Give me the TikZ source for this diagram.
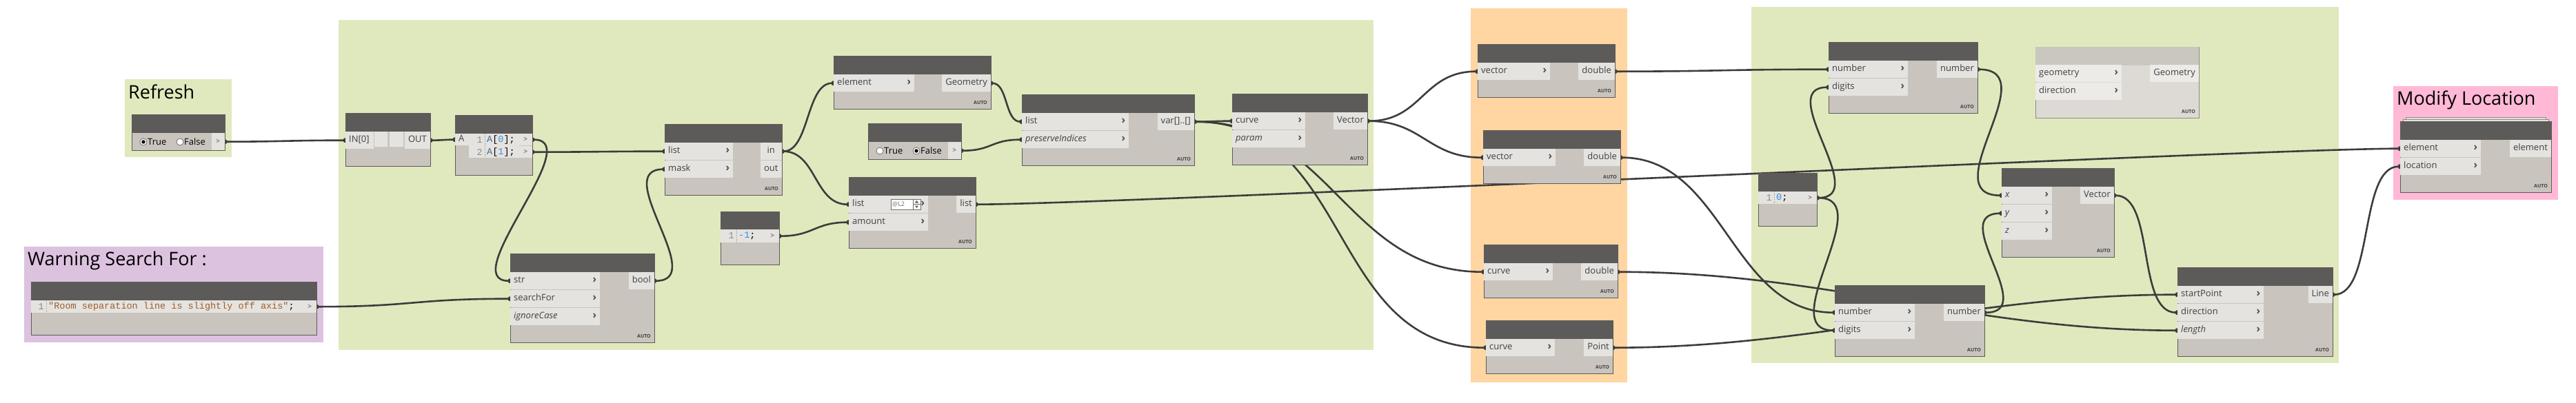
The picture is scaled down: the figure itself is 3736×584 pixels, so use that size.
\documentclass[tikz,border=0pt]{standalone}
\usepackage{fontspec}
\setmainfont{Open Sans}
\newfontfamily\codefont{Liberation Mono}
\usetikzlibrary{arrows.meta,positioning}
\definecolor{HeadGray}{HTML}{5D5B59}
\definecolor{BodyGray}{HTML}{C9C5BE}
\definecolor{RowGray}{HTML}{E5E3DF}
\definecolor{LabelGray}{HTML}{404040}
\definecolor{ChevGray}{HTML}{4F4F4F}
\definecolor{RadioGray}{HTML}{6E6E6E}
\definecolor{WireGray}{HTML}{3C3C3C}
\definecolor{GroupGreen}{HTML}{E0E9BD}
\definecolor{GroupOrange}{HTML}{FFD5A2}
\definecolor{GroupPurple}{HTML}{DDC2E0}
\definecolor{GroupPink}{HTML}{FFB9D6}
\definecolor{CodeBlue}{HTML}{3A8EE0}
\definecolor{CodeSteel}{HTML}{3D6D94}
\definecolor{CodeBrown}{HTML}{9C5E2C}
\definecolor{NumGray}{HTML}{8A8A8A}
\definecolor{FrozenEdge}{HTML}{8E8B87}
\definecolor{FrozenHead}{HTML}{CAC6C0}
\definecolor{FrozenBody}{HTML}{DDDAD5}
\definecolor{FrozenRow}{HTML}{EDEBE8}
\pgfdeclarelayer{groups}
\pgfdeclarelayer{wires}
\pgfsetlayers{groups,wires,main}
\newcommand\lab{\fontsize{13}{15}\selectfont}
\newcommand\cf{\codefont\fontsize{13.5}{15}\selectfont}
\newcommand\chv{\hfill{\fontsize{15}{15}\selectfont\bfseries\color{ChevGray}›}}

\begin{document}
\begin{tikzpicture}[x=1pt, y=-1pt,
  grp/.style={fill=#1, anchor=north west, inner sep=0pt},
  ttl/.style={anchor=base west, inner sep=0pt, font=\fontsize{27}{30}\selectfont},
  body/.style={draw=HeadGray, line width=1.2pt, fill=BodyGray, anchor=north west, inner sep=0pt},
  hdr/.style={fill=HeadGray, anchor=north west, inner sep=0pt, minimum height=27pt},
  inrow/.style={fill=RowGray, anchor=north west, inner sep=0pt, inner xsep=5pt, minimum height=25pt, text height=9.5pt, text depth=3pt, text width=#1, align=left, font=\lab, text=LabelGray},
  outrow/.style={fill=RowGray, anchor=north east, inner sep=0pt, inner xsep=5pt, minimum height=25pt, text height=9.5pt, text depth=3pt, font=\lab, text=LabelGray},
  portbox/.style={fill=RowGray, anchor=north east, inner sep=0pt, minimum width=19pt, minimum height=18pt, font=\fontsize{10}{10}\selectfont, text=LabelGray},
  codeline/.style={anchor=west, inner sep=0pt, font=\cf},
  lineno/.style={anchor=east, inner sep=0pt, font=\cf, text=NumGray},
  dotsep/.style={NumGray, dotted, line width=0.7pt},
  autotag/.style={anchor=south east, inner sep=0pt, font=\fontsize{7}{8}\selectfont\bfseries, text=LabelGray},
  radio/.style={circle, draw=RadioGray, fill=white, line width=0.8pt, minimum size=10pt, inner sep=0pt},
  opt/.style={anchor=west, inner sep=0pt, font=\lab, text=black},
  wire/.style={draw=WireGray, line width=2.6pt, {Circle[length=7pt]}-{Circle[length=7pt]}, shorten <=-3.5pt, shorten >=-3.5pt}
]
\useasboundingbox (0,0) rectangle (3736,584);

% groups
\begin{pgfonlayer}{groups}
\fill[white] (0,0) rectangle (3736,584);
\node[grp=GroupGreen, minimum width=155pt, minimum height=113pt] (g-refresh) at (181,115) {};
\node[grp=GroupPurple, minimum width=434pt, minimum height=139pt] (g-warn) at (35,358) {};
\node[grp=GroupGreen, minimum width=1501pt, minimum height=479pt] (g-filter) at (491,29) {};
\node[grp=GroupOrange, minimum width=227pt, minimum height=543pt] (g-measure) at (2133,12) {};
\node[grp=GroupGreen, minimum width=852pt, minimum height=517pt] (g-line) at (2540,10) {};
\node[grp=GroupPink, minimum width=239pt, minimum height=165pt] (g-modify) at (3471,125) {};
\end{pgfonlayer}
\node[ttl] (t-refresh) at (186,143) {Refresh};
\node[ttl] (t-warn) at (40,385) {Warning Search For :};
\node[ttl] (t-modify) at (3476,152) {Modify Location};

% refresh toggle
\node[body, minimum width=135pt, minimum height=52pt] (refresh) at (191,166) {};
\node[hdr, minimum width=135pt] (refresh-h) at (191,166) {};
\node[portbox, minimum height=25pt] (refresh-out) at (326,193) {>};
\node[radio] (refresh-t) at (208,206) {};
\fill (refresh-t) circle (2.7pt);
\node[opt] (refresh-tl) at (214,206) {True};
\node[radio] (refresh-f) at (261,206) {};
\node[opt] (refresh-fl) at (267,206) {False};

% warning text
\node[body, minimum width=414pt, minimum height=77pt] (warn) at (45,409) {};
\node[hdr, minimum width=414pt] (warn-h) at (45,409) {};
\fill[RowGray] (45,436) rectangle (440,454);
\node[lineno] (warn-n) at (64,445) {1};
\draw[dotsep] (67,436) -- (67,454);
\node[codeline] (warn-c) at (70,445) {\textcolor{CodeBrown}{"Room separation line is slightly off axis"};};
\node[portbox] (warn-out) at (459,436) {>};

% python
\node[body, minimum width=123pt, minimum height=77pt] (py) at (501,164) {};
\node[hdr, minimum width=123pt] (py-h) at (501,164) {};
\node[inrow=31pt] (py-in) at (501,191) {IN[0]};
\fill[RowGray] (543,191) rectangle (562,213) (565,191) rectangle (585,213);
\node[outrow] (py-out) at (624,191) {OUT};

% pick items
\node[body, minimum width=112pt, minimum height=87pt] (pick) at (660,167) {};
\node[hdr, minimum width=112pt] (pick-h) at (660,167) {};
\fill[RowGray] (680,194) rectangle (753,229);
\node[inrow=10pt, minimum height=17pt] (pick-a) at (660,194) {A};
\node[lineno] (pick-n1) at (700,203) {1};
\node[lineno] (pick-n2) at (700,221) {2};
\draw[dotsep] (703,194) -- (703,229);
\node[codeline] (pick-c1) at (706,203) {\textcolor{CodeSteel}{A}[\textcolor{CodeBlue}{0}];};
\node[codeline] (pick-c2) at (706,221) {\textcolor{CodeSteel}{A}[\textcolor{CodeBlue}{1}];};
\node[portbox, minimum height=17pt] (pick-o1) at (772,194) {>};
\node[portbox, minimum height=17pt] (pick-o2) at (772,212) {>};

% string contains
\node[body, minimum width=209pt, minimum height=129pt] (contains) at (740,368) {};
\node[hdr, minimum width=209pt] (contains-h) at (740,368) {};
\node[inrow=120pt] (contains-str) at (740,395) {str\chv};
\node[inrow=120pt] (contains-for) at (740,421) {searchFor\chv};
\node[inrow=120pt] (contains-case) at (740,447) {\textit{ignoreCase}\chv};
\node[outrow] (contains-bool) at (949,395) {bool};
\node[autotag] (contains-a) at (944,491) {AUTO};

% filter by mask
\node[body, minimum width=170pt, minimum height=103pt] (mask) at (964,180) {};
\node[hdr, minimum width=170pt] (mask-h) at (964,180) {};
\node[inrow=89pt] (mask-list) at (964,207) {list\chv};
\node[inrow=89pt] (mask-mask) at (964,233) {mask\chv};
\node[outrow, minimum width=31pt] (mask-in) at (1134,207) {in};
\node[outrow, minimum width=31pt] (mask-out) at (1134,233) {out};
\node[autotag] (mask-a) at (1129,277) {AUTO};

% element geometry
\node[body, minimum width=228pt, minimum height=77pt] (elgeo) at (1209,81) {};
\node[hdr, minimum width=228pt] (elgeo-h) at (1209,81) {};
\node[inrow=107pt] (elgeo-el) at (1209,108) {element\chv};
\node[outrow] (elgeo-geo) at (1437,108) {Geometry};
\node[autotag] (elgeo-a) at (1432,152) {AUTO};

% keep indices toggle
\node[body, minimum width=135pt, minimum height=52pt] (keep) at (1259,179) {};
\node[hdr, minimum width=135pt] (keep-h) at (1259,179) {};
\node[portbox, minimum height=25pt] (keep-out) at (1394,206) {>};
\node[radio] (keep-t) at (1276,219) {};
\node[opt] (keep-tl) at (1282,219) {True};
\node[radio] (keep-f) at (1329,219) {};
\fill (keep-f) circle (2.7pt);
\node[opt] (keep-fl) at (1335,219) {False};

% clean
\node[body, minimum width=250pt, minimum height=103pt] (clean) at (1482,137) {};
\node[hdr, minimum width=250pt] (clean-h) at (1482,137) {};
\node[inrow=145pt] (clean-list) at (1482,164) {list\chv};
\node[inrow=145pt] (clean-keep) at (1482,190) {\textit{preserveIndices}\chv};
\node[outrow] (clean-var) at (1732,164) {var[]..[]};
\node[autotag] (clean-a) at (1727,234) {AUTO};

% tangent
\node[body, minimum width=196pt, minimum height=103pt] (tangent) at (1787,136) {};
\node[hdr, minimum width=196pt] (tangent-h) at (1787,136) {};
\node[inrow=96pt] (tangent-curve) at (1787,163) {curve\chv};
\node[inrow=96pt] (tangent-param) at (1787,189) {\textit{param}\chv};
\node[outrow] (tangent-vec) at (1983,163) {Vector};
\node[autotag] (tangent-a) at (1978,233) {AUTO};

% minus one
\node[body, minimum width=85pt, minimum height=77pt] (minus) at (1045,307) {};
\node[hdr, minimum width=85pt] (minus-h) at (1045,307) {};
\fill[RowGray] (1045,333) rectangle (1111,352);
\node[lineno] (minus-n) at (1065,342.5) {1};
\draw[dotsep] (1068,333) -- (1068,352);
\node[codeline] (minus-c) at (1071,342.5) {\textcolor{CodeBlue}{-1};};
\node[portbox, minimum height=19pt] (minus-out) at (1130,333) {>};

% shift indices
\node[body, minimum width=184pt, minimum height=103pt] (shift) at (1231,257) {};
\node[hdr, minimum width=184pt] (shift-h) at (1231,257) {};
\node[inrow=105pt] (shift-list) at (1231,284) {list\chv};
\node[inrow=105pt] (shift-amt) at (1231,310) {amount\chv};
\node[draw=RadioGray, fill=white, line width=0.7pt, anchor=north west, minimum width=43pt, minimum height=15pt, inner sep=0pt] (shift-lace) at (1292,289) {};
\node[anchor=west, inner sep=0pt, font=\fontsize{9}{9}\selectfont, text=RadioGray] (shift-lt) at (1294,296.5) {@L2};
\draw[RadioGray, line width=0.6pt] (1324,289) -- (1324,304) (1324,296.5) -- (1335,296.5);
\fill[HeadGray] (1327,294.5) -- (1332,294.5) -- (1329.5,291) -- cycle (1327,298.5) -- (1332,298.5) -- (1329.5,302) -- cycle;
\node[outrow] (shift-out) at (1415,284) {list};
\node[autotag] (shift-a) at (1410,354) {AUTO};

% measuring nodes
\node[body, minimum width=199pt, minimum height=77pt] (vx) at (2143,64) {};
\node[hdr, minimum width=199pt] (vx-h) at (2143,64) {};
\node[inrow=95pt] (vx-vec) at (2143,91) {vector\chv};
\node[outrow] (vx-dbl) at (2342,91) {double};
\node[autotag] (vx-a) at (2337,135) {AUTO};

\node[body, minimum width=199pt, minimum height=77pt] (vy) at (2151,189) {};
\node[hdr, minimum width=199pt] (vy-h) at (2151,189) {};
\node[inrow=95pt] (vy-vec) at (2151,216) {vector\chv};
\node[outrow] (vy-dbl) at (2350,216) {double};
\node[autotag] (vy-a) at (2345,260) {AUTO};

\node[body, minimum width=194pt, minimum height=77pt] (clen) at (2152,355) {};
\node[hdr, minimum width=194pt] (clen-h) at (2152,355) {};
\node[inrow=90pt] (clen-curve) at (2152,382) {curve\chv};
\node[outrow] (clen-dbl) at (2346,382) {double};
\node[autotag] (clen-a) at (2341,426) {AUTO};

\node[body, minimum width=184pt, minimum height=77pt] (cstart) at (2155,465) {};
\node[hdr, minimum width=184pt] (cstart-h) at (2155,465) {};
\node[inrow=90pt] (cstart-curve) at (2155,492) {curve\chv};
\node[outrow] (cstart-pt) at (2339,492) {Point};
\node[autotag] (cstart-a) at (2334,536) {AUTO};

% rounding and line
\node[body, minimum width=216pt, minimum height=103pt] (roundx) at (2652,61) {};
\node[hdr, minimum width=216pt] (roundx-h) at (2652,61) {};
\node[inrow=105pt] (roundx-num) at (2652,88) {number\chv};
\node[inrow=105pt] (roundx-dig) at (2652,114) {digits\chv};
\node[outrow] (roundx-out) at (2868,88) {number};
\node[autotag] (roundx-a) at (2863,158) {AUTO};

\node[body, draw=FrozenEdge, fill=FrozenBody, minimum width=237pt, minimum height=103pt] (move) at (2952,68) {};
\node[hdr, fill=FrozenHead, minimum width=237pt] (move-h) at (2952,68) {};
\node[inrow=115pt, fill=FrozenRow] (move-geo) at (2952,94) {geometry\chv};
\node[inrow=115pt, fill=FrozenRow] (move-dir) at (2952,120) {direction\chv};
\node[outrow, fill=FrozenRow] (move-out) at (3189,94) {Geometry};
\node[autotag] (move-a) at (3184,165) {AUTO};

\node[body, minimum width=85pt, minimum height=77pt] (zero) at (2550,251) {};
\node[hdr, minimum width=85pt] (zero-h) at (2550,251) {};
\fill[RowGray] (2550,278) rectangle (2616,296);
\node[lineno] (zero-n) at (2570,287) {1};
\draw[dotsep] (2573,278) -- (2573,296);
\node[codeline] (zero-c) at (2576,287) {\textcolor{CodeBlue}{0};};
\node[portbox] (zero-out) at (2635,278) {>};

\node[body, minimum width=163pt, minimum height=129pt] (vec) at (2903,244) {};
\node[hdr, minimum width=163pt] (vec-h) at (2903,244) {};
\node[inrow=63pt] (vec-x) at (2903,271) {\textit{x}\chv};
\node[inrow=63pt] (vec-y) at (2903,297) {\textit{y}\chv};
\node[inrow=63pt] (vec-z) at (2903,323) {\textit{z}\chv};
\node[outrow] (vec-out) at (3066,271) {Vector};
\node[autotag] (vec-a) at (3061,367) {AUTO};

\node[body, minimum width=217pt, minimum height=103pt] (roundy) at (2661,414) {};
\node[hdr, minimum width=217pt] (roundy-h) at (2661,414) {};
\node[inrow=106pt] (roundy-num) at (2661,441) {number\chv};
\node[inrow=106pt] (roundy-dig) at (2661,467) {digits\chv};
\node[outrow] (roundy-out) at (2878,441) {number};
\node[autotag] (roundy-a) at (2873,511) {AUTO};

\node[body, minimum width=225pt, minimum height=129pt] (line) at (3158,388) {};
\node[hdr, minimum width=225pt] (line-h) at (3158,388) {};
\node[inrow=115pt] (line-start) at (3158,415) {startPoint\chv};
\node[inrow=115pt] (line-dir) at (3158,441) {direction\chv};
\node[inrow=115pt] (line-len) at (3158,467) {\textit{length}\chv};
\node[outrow] (line-out) at (3383,415) {Line};
\node[autotag] (line-a) at (3378,511) {AUTO};

% modify location
\draw[line width=0.7pt, draw=FrozenEdge, fill=RowGray] (3489,170) rectangle (3692,177);
\draw[line width=0.7pt, draw=FrozenEdge, fill=RowGray] (3485,173) rectangle (3696,177);
\node[body, minimum width=219pt, minimum height=103pt] (modify) at (3481,176) {};
\node[hdr, minimum width=219pt] (modify-h) at (3481,176) {};
\node[inrow=107pt] (modify-el) at (3481,203) {element\chv};
\node[inrow=107pt] (modify-loc) at (3481,229) {location\chv};
\node[outrow] (modify-out) at (3700,203) {element};
\node[autotag] (modify-a) at (3695,273) {AUTO};

% wires
\begin{pgfonlayer}{wires}
\draw[wire] (refresh-out.east) .. controls +(80,0) and +(-80,0) .. (py-in.west);
\draw[wire] (py-out.east) .. controls +(15,0) and +(-15,0) .. (pick-a.west);
\draw[wire] (pick-o1.east) .. controls +(80,0) and +(-80,0) .. (contains-str.west);
\draw[wire] (pick-o2.east) .. controls +(90,0) and +(-90,0) .. (mask-list.west);
\draw[wire] (warn-out.east) .. controls +(140,0) and +(-140,0) .. (contains-for.west);
\draw[wire] (contains-bool.east) .. controls +(80,0) and +(-80,0) .. (mask-mask.west);
\draw[wire] (mask-in.east) .. controls +(40,0) and +(-40,0) .. (elgeo-el.west);
\draw[wire] (mask-in.east) .. controls +(50,0) and +(-50,0) .. (shift-list.west);
\draw[wire] (elgeo-geo.east) .. controls +(25,0) and +(-25,0) .. (clean-list.west);
\draw[wire] (keep-out.east) .. controls +(45,0) and +(-45,0) .. (clean-keep.west);
\draw[wire] (minus-out.east) .. controls +(50,0) and +(-50,0) .. (shift-amt.west);
\draw[wire] (clean-var.east) .. controls +(25,0) and +(-25,0) .. (tangent-curve.west);
\draw[wire] (clean-var.east) .. controls +(200,0) and +(-200,0) .. (clen-curve.west);
\draw[wire] (clean-var.east) .. controls +(230,0) and +(-230,0) .. (cstart-curve.west);
\draw[wire] (tangent-vec.east) .. controls +(80,0) and +(-80,0) .. (vx-vec.west);
\draw[wire] (tangent-vec.east) .. controls +(80,0) and +(-80,0) .. (vy-vec.west);
\draw[wire] (shift-out.east) .. controls +(200,0) and +(-200,0) .. (modify-el.west);
\draw[wire] (vx-dbl.east) .. controls +(150,0) and +(-150,0) .. (roundx-num.west);
\draw[wire] (vy-dbl.east) .. controls +(150,0) and +(-150,0) .. (roundy-num.west);
\draw[wire] (clen-dbl.east) .. controls +(300,0) and +(-300,0) .. (line-len.west);
\draw[wire] (cstart-pt.east) .. controls +(300,0) and +(-300,0) .. (line-start.west);
\draw[wire] (zero-out.east) .. controls +(80,0) and +(-80,0) .. (roundx-dig.west);
\draw[wire] (zero-out.east) .. controls +(90,0) and +(-90,0) .. (roundy-dig.west);
\draw[wire] (roundx-out.east) .. controls +(100,0) and +(-100,0) .. (vec-x.west);
\draw[wire] (roundy-out.east) .. controls +(80,0) and +(-80,0) .. (vec-y.west);
\draw[wire] (vec-out.east) .. controls +(60,0) and +(-60,0) .. (line-dir.west);
\draw[wire] (line-out.east) .. controls +(60,0) and +(-60,0) .. (modify-loc.west);
\end{pgfonlayer}
\end{tikzpicture}
\end{document}
